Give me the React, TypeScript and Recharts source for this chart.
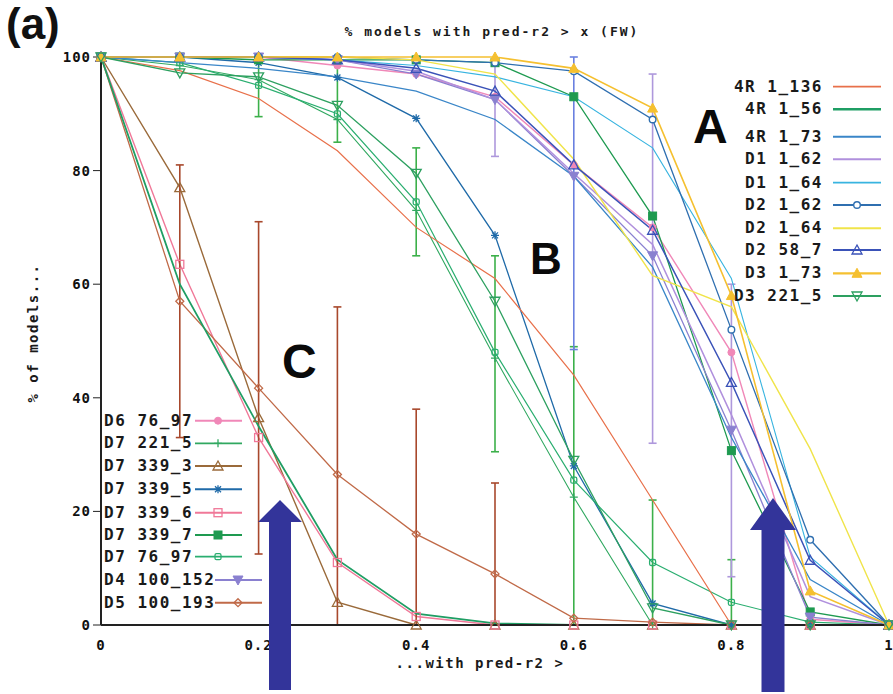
import React from "react";
import { LineChart, Line, XAxis, YAxis, ErrorBar } from "recharts";

// x positions (pred-r2 threshold) and axis ticks
const xValues = [0, 0.1, 0.2, 0.3, 0.4, 0.5, 0.6, 0.7, 0.8, 0.9, 1];
const xTicks = [0, 0.2, 0.4, 0.6, 0.8, 1];
const yTicks = [0, 20, 40, 60, 80, 100];

// % of models with pred-r2 > x, per data set
const r4_1_136 = [100, 97.6, 92.7, 83.5, 70, 61, 44, 22, 0, 0, 0];
const r4_1_56 = [100, 60, 35, 11.5, 2, 0.3, 0, 0, 0, 0, 0];
const r4_1_73 = [100, 99, 98, 96.5, 94, 89, 79, 63, 33, 8, 0];
const d1_1_62 = [100, 100, 100, 99.5, 97.5, 92.5, 79.5, 67, 37, 5, 0];
const d1_1_64 = [100, 100, 100, 99.5, 98.5, 96.5, 93, 84, 61, 12, 0];
const d2_1_62 = [100, 100, 100, 100, 99.5, 99, 97.5, 89, 52, 15, 0];
const d2_1_64 = [100, 100, 100, 100, 99.5, 97, 82, 61.5, 56, 31, 0];
const d2_58_7 = [100, 100, 100, 99.5, 98, 94, 81, 69.5, 42.7, 11.4, 0];
const d3_1_73 = [100, 100, 100, 100, 100, 100, 98, 91, 58, 6, 0];
const d3_221_5 = [100, 97.2, 96.5, 91.5, 79.5, 57, 29, 3, 0, 0, 0];
const d6_76_97 = [100, 100, 100, 98.5, 97, 93, 81, 70, 48, 1, 0];
const d7_221_5 = [100, 98.5, 96, 89, 73, 47, 22.5, 0, 0, 0, 0];
const d7_339_3 = [100, 77, 36.5, 4, 0, 0, 0, 0, 0, 0, 0];
const d7_339_5 = [100, 100, 99, 96.4, 89.2, 68.6, 28, 3.8, 0, 0, 0];
const d7_339_6 = [100, 63.5, 33, 11, 1.5, 0, 0, 0, 0, 0, 0];
const d7_339_7 = [100, 100, 99.5, 99.5, 99.5, 99, 93, 72, 30.7, 2.3, 0];
const d7_76_97 = [100, 99, 95, 90, 74.5, 48, 25.5, 11, 4, 0.5, 0];
const d4_100_152 = [100, 100, 100, 99.5, 97, 92.5, 79, 65, 34.3, 1.4, 0];
const d5_100_193 = [100, 57, 41.7, 26.5, 16, 9, 1.2, 0.5, 0, 0, 0];

// error bar ranges [low, high]
type Range = [number, number] | null;
const d5_100_193Range: Range[] = [null, [33, 81], [12.5, 71], [0, 56], [0, 38], [0, 25], null, null, null, null, null];
const d7_76_97Range: Range[] = [null, null, [89.5, 100], [85, 100], [65, 84], [30.5, 65], [0, 49], [0, 22], [0, 11.5], null, null];
const d4_100_152Range: Range[] = [null, null, null, null, null, [82.5, 99], null, [32, 97], [8.5, 60], null, null];
const d2_58_7Range: Range[] = [null, null, null, null, null, null, [48.5, 100], null, null, null, null];

type Shape = "none" | "circle" | "filledCircle" | "plus" | "triangle" | "filledTriangle" | "invTriangle" | "filledInvTriangle" | "star" | "square" | "filledSquare" | "smallSquare" | "diamond";

interface Series {
  key: string;
  name: string;
  values: number[];
  color: string;
  shape: Shape;
  width: number;
  range?: Range[];
  rangeColor?: string;
}

const rightSeries: Series[] = [
  { key: "r4_1_136", name: "4R 1_136", values: r4_1_136, color: "#e8704a", shape: "none", width: 1.2 },
  { key: "r4_1_56", name: "4R 1_56", values: r4_1_56, color: "#1f9e64", shape: "none", width: 1.8 },
  { key: "r4_1_73", name: "4R 1_73", values: r4_1_73, color: "#3a86c8", shape: "none", width: 1.3 },
  { key: "d1_1_62", name: "D1 1_62", values: d1_1_62, color: "#b090dd", shape: "none", width: 1.5 },
  { key: "d1_1_64", name: "D1 1_64", values: d1_1_64, color: "#38b4e0", shape: "none", width: 1.1 },
  { key: "d2_1_62", name: "D2 1_62", values: d2_1_62, color: "#2f6fb0", shape: "circle", width: 1.3 },
  { key: "d2_1_64", name: "D2 1_64", values: d2_1_64, color: "#f0e44a", shape: "none", width: 1.4 },
  { key: "d2_58_7", name: "D2 58_7", values: d2_58_7, color: "#3a52b8", shape: "triangle", width: 1.5, range: d2_58_7Range, rangeColor: "#6a80e0" },
  { key: "d3_1_73", name: "D3 1_73", values: d3_1_73, color: "#f5c030", shape: "filledTriangle", width: 1.6 },
  { key: "d3_221_5", name: "D3 221_5", values: d3_221_5, color: "#2da060", shape: "invTriangle", width: 1.3 },
];

const leftSeries: Series[] = [
  { key: "d6_76_97", name: "D6 76_97", values: d6_76_97, color: "#f088b8", shape: "filledCircle", width: 1.4 },
  { key: "d7_221_5", name: "D7 221_5", values: d7_221_5, color: "#30a860", shape: "plus", width: 1.1 },
  { key: "d7_339_3", name: "D7 339_3", values: d7_339_3, color: "#9a6a3a", shape: "triangle", width: 1.4 },
  { key: "d7_339_5", name: "D7 339_5", values: d7_339_5, color: "#1f6aa8", shape: "star", width: 1.3 },
  { key: "d7_339_6", name: "D7 339_6", values: d7_339_6, color: "#f07898", shape: "square", width: 1.4 },
  { key: "d7_339_7", name: "D7 339_7", values: d7_339_7, color: "#1e9a50", shape: "filledSquare", width: 1.3 },
  { key: "d7_76_97", name: "D7 76_97", values: d7_76_97, color: "#2aae70", shape: "smallSquare", width: 1.2, range: d7_76_97Range, rangeColor: "#3cb04a" },
  { key: "d4_100_152", name: "D4 100_152", values: d4_100_152, color: "#8a80d0", shape: "filledInvTriangle", width: 1.3, range: d4_100_152Range, rangeColor: "#ae98dc" },
  { key: "d5_100_193", name: "D5 100_193", values: d5_100_193, color: "#c06a48", shape: "diamond", width: 1.3, range: d5_100_193Range, rangeColor: "#a8482c" },
];

const allSeries = [...leftSeries, ...rightSeries];

const tableData = xValues.map((x, i) => {
  const row: Record<string, any> = { x };
  allSeries.forEach((s) => {
    row[s.key] = s.values[i];
    if (s.range) {
      const r = s.range[i];
      row[`${s.key}_err`] = r ? [s.values[i] - r[0], r[1] - s.values[i]] : null;
    }
  });
  return row;
});

const mono = "'DejaVu Sans Mono', monospace";
const sans = "'Liberation Sans', Arial, sans-serif";

const Marker = ({ cx, cy, shape, color }: { cx?: number; cy?: number; shape: Shape; color: string }) => {
  if (cx == null || cy == null || shape === "none") return <g />;
  const s = 4;
  switch (shape) {
    case "circle":
      return <circle cx={cx} cy={cy} r={3.3} fill="#fff" stroke={color} strokeWidth={1.4} />;
    case "filledCircle":
      return <circle cx={cx} cy={cy} r={3.5} fill={color} stroke={color} />;
    case "plus":
      return <path d={`M${cx - s},${cy}H${cx + s}M${cx},${cy - s}V${cy + s}`} stroke={color} strokeWidth={1.3} />;
    case "triangle":
      return <path d={`M${cx},${cy - s - 1}L${cx + s + 1},${cy + s}L${cx - s - 1},${cy + s}Z`} fill="none" stroke={color} strokeWidth={1.3} />;
    case "filledTriangle":
      return <path d={`M${cx},${cy - s - 1}L${cx + s + 1},${cy + s}L${cx - s - 1},${cy + s}Z`} fill={color} stroke={color} />;
    case "invTriangle":
      return <path d={`M${cx},${cy + s + 1}L${cx + s + 1},${cy - s}L${cx - s - 1},${cy - s}Z`} fill="none" stroke={color} strokeWidth={1.3} />;
    case "filledInvTriangle":
      return <path d={`M${cx},${cy + s + 1}L${cx + s + 1},${cy - s}L${cx - s - 1},${cy - s}Z`} fill={color} stroke={color} />;
    case "star":
      return (
        <path
          d={`M${cx - s},${cy}H${cx + s}M${cx},${cy - s}V${cy + s}M${cx - 3},${cy - 3}L${cx + 3},${cy + 3}M${cx - 3},${cy + 3}L${cx + 3},${cy - 3}`}
          stroke={color}
          strokeWidth={1.3}
        />
      );
    case "square":
      return <rect x={cx - s} y={cy - s} width={s * 2} height={s * 2} fill="none" stroke={color} strokeWidth={1.3} />;
    case "filledSquare":
      return <rect x={cx - s} y={cy - s} width={s * 2} height={s * 2} fill={color} stroke={color} />;
    case "smallSquare":
      return <rect x={cx - 3} y={cy - 3} width={6} height={6} rx={1.5} fill="none" stroke={color} strokeWidth={1.3} />;
    case "diamond":
      return <path d={`M${cx},${cy - s}L${cx + s},${cy}L${cx},${cy + s}L${cx - s},${cy}Z`} fill="none" stroke={color} strokeWidth={1.3} />;
    default:
      return <g />;
  }
};

const rightRows = [86.7, 109.3, 136.7, 159.3, 182.7, 205, 228.3, 250, 273.3, 296];
const leftRows = [420.7, 443.3, 466, 489.3, 512.7, 535, 556.7, 580, 602.7];

const Arrow = ({ tipX, tipY, baseY, headHalf, shaftHalf, bottom }: { tipX: number; tipY: number; baseY: number; headHalf: number; shaftHalf: number; bottom: number }) => (
  <path
    d={`M${tipX},${tipY}L${tipX + headHalf},${baseY}L${tipX + shaftHalf},${baseY}L${tipX + shaftHalf},${bottom}L${tipX - shaftHalf},${bottom}L${tipX - shaftHalf},${baseY}L${tipX - headHalf},${baseY}Z`}
    fill="#33349a"
  />
);

const Overlay = () => {
  const legendText = { fontFamily: mono, fontWeight: 700, fontSize: 16, letterSpacing: 1.5, fill: "#1a1a1a" } as const;
  return (
    <svg width={893} height={694} style={{ position: "absolute", left: 0, top: 0, pointerEvents: "none" }}>
      <text x={6} y={39} fontFamily={sans} fontWeight={700} fontSize={44} fill="#111">(a)</text>
      <text x={492} y={36} textAnchor="middle" fontFamily={mono} fontWeight={700} fontSize={13} letterSpacing={2} fill="#1a1a1a">
        % models with pred-r2 &gt; x (FW)
      </text>
      <text x={480} y={668} textAnchor="middle" fontFamily={mono} fontWeight={700} fontSize={14} letterSpacing={1.5} fill="#1a1a1a">
        ...with pred-r2 &gt;
      </text>
      <text x={0} y={0} transform="translate(38,333) rotate(-90)" textAnchor="middle" fontFamily={mono} fontWeight={700} fontSize={14} letterSpacing={1.5} fill="#1a1a1a">
        % of models...
      </text>

      {rightSeries.map((s, i) => (
        <g key={s.key}>
          <text x={823} y={rightRows[i] + 5} textAnchor="end" {...legendText}>{s.name}</text>
          <line x1={833} x2={881} y1={rightRows[i]} y2={rightRows[i]} stroke={s.color} strokeWidth={s.width + 0.6} />
          <Marker cx={857} cy={rightRows[i]} shape={s.shape} color={s.color} />
        </g>
      ))}
      {leftSeries.map((s, i) => {
        const x0 = i >= 7 ? 215 : 195;
        return (
          <g key={s.key}>
            <text x={104} y={leftRows[i] + 5} {...legendText}>{s.name}</text>
            <line x1={x0} x2={x0 + 47} y1={leftRows[i]} y2={leftRows[i]} stroke={s.color} strokeWidth={s.width + 0.6} />
            <Marker cx={x0 + 23} cy={leftRows[i]} shape={s.shape} color={s.color} />
          </g>
        );
      })}

      <text x={693} y={143} fontFamily={sans} fontWeight={700} fontSize={48} fill="#0a0a0a">A</text>
      <text x={530} y={274} fontFamily={sans} fontWeight={700} fontSize={44} fill="#0a0a0a">B</text>
      <text x={282} y={378} fontFamily={sans} fontWeight={700} fontSize={48} fill="#0a0a0a">C</text>

      <Arrow tipX={280} tipY={500} baseY={522} headHalf={22} shaftHalf={11} bottom={690} />
      <Arrow tipX={773} tipY={498} baseY={530} headHalf={23} shaftHalf={11.5} bottom={692} />
    </svg>
  );
};

const App = () => {
  const tickStyle = { fill: "#111", fontSize: 14, fontFamily: mono, fontWeight: 700, letterSpacing: 1 };
  return (
    <div style={{ position: "absolute", left: 0, top: 0, width: 893, height: 694, background: "#fff" }}>
      <LineChart width={893} height={694} data={tableData} margin={{ top: 57, right: 4, bottom: 0, left: 0 }}>
        <XAxis
          dataKey="x"
          type="number"
          domain={[0, 1]}
          ticks={xTicks}
          tickFormatter={(v: number) => String(v)}
          height={69}
          tick={tickStyle}
          tickLine={false}
          tickMargin={9}
          axisLine={{ stroke: "#222", strokeWidth: 2 }}
        />
        <XAxis
          xAxisId="top"
          orientation="top"
          dataKey="x"
          type="number"
          domain={[0, 1]}
          ticks={xTicks}
          height={0}
          mirror
          tickSize={6}
          tickFormatter={() => ""}
          axisLine={{ stroke: "#333", strokeWidth: 2 }}
          tickLine={{ stroke: "#333" }}
        />
        <YAxis
          type="number"
          domain={[0, 100]}
          ticks={yTicks}
          width={101}
          tick={tickStyle}
          tickSize={8}
          tickMargin={2}
          axisLine={{ stroke: "#222", strokeWidth: 2 }}
          tickLine={{ stroke: "#222" }}
        />
        <YAxis
          yAxisId="right"
          orientation="right"
          type="number"
          domain={[0, 100]}
          ticks={yTicks}
          width={0}
          mirror
          tickSize={7}
          tickFormatter={() => ""}
          axisLine={{ stroke: "#7a3a2a", strokeWidth: 2 }}
          tickLine={{ stroke: "#333" }}
        />
        {allSeries.map((s) => (
          <Line
            key={s.key}
            type="linear"
            dataKey={s.key}
            name={s.name}
            stroke={s.color}
            strokeWidth={s.width}
            isAnimationActive={false}
            dot={
              s.shape === "none"
                ? false
                : (p: any) => <Marker key={`${s.key}-${p.index}`} cx={p.cx} cy={p.cy} shape={s.shape} color={s.color} />
            }
            activeDot={false}
          >
            {s.range && (
              <ErrorBar dataKey={`${s.key}_err`} direction="y" width={4} stroke={s.rangeColor} strokeWidth={1.6} isAnimationActive={false} />
            )}
          </Line>
        ))}
      </LineChart>
      <Overlay />
    </div>
  );
};

export default App;
